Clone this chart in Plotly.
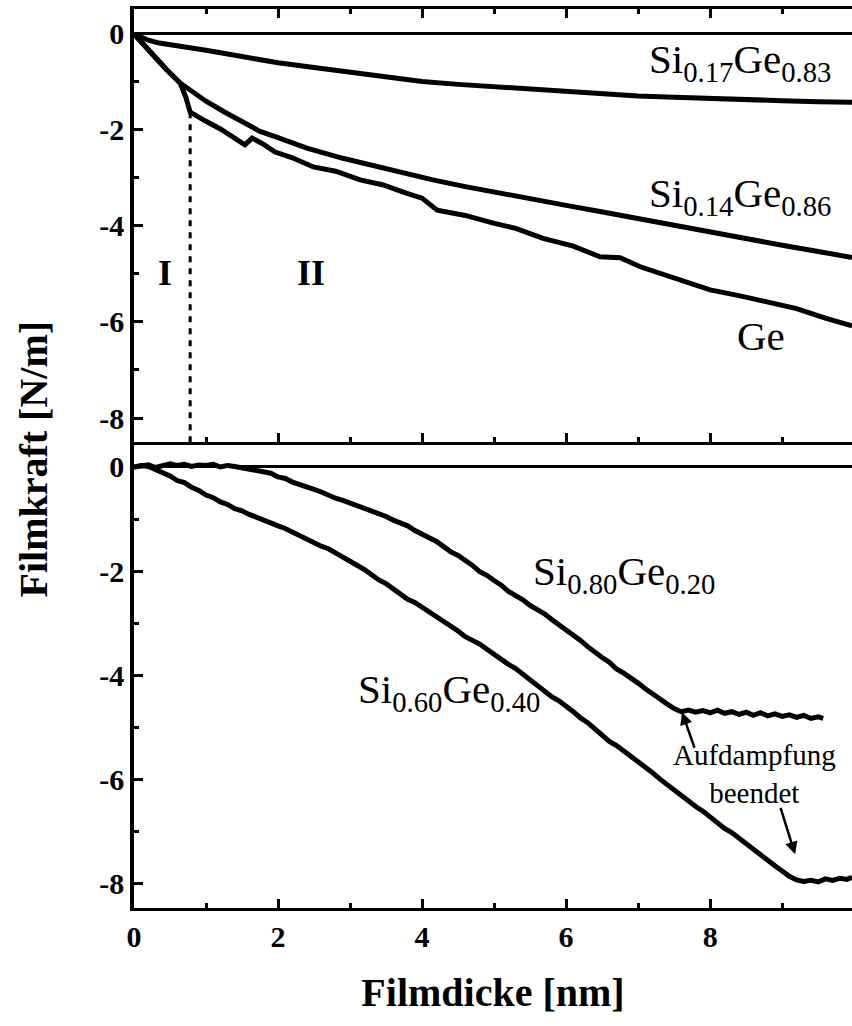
import plotly.graph_objects as go

# ---------------- data ----------------
# top panel
x_si17 = [0, 0.1, 0.2, 0.35, 0.5, 0.75, 1.0, 1.5, 2.0, 2.5, 3.0, 3.5, 4.0, 4.5, 5.0, 5.5, 6.0, 6.5, 7.0, 7.5, 8.0, 8.5, 9.0, 9.5, 9.97]
y_si17 = [0, -0.07, -0.13, -0.19, -0.23, -0.28, -0.34, -0.47, -0.6, -0.7, -0.8, -0.9, -0.99, -1.05, -1.1, -1.16, -1.21, -1.26, -1.29, -1.32, -1.35, -1.37, -1.39, -1.41, -1.42]

x_si14 = [0, 0.15, 0.3, 0.45, 0.64, 0.8, 1.0, 1.25, 1.5, 1.75, 2.0, 2.4, 2.9, 3.4, 3.8, 4.15, 4.6, 5.08, 5.5, 6.0, 6.47, 7.0, 7.5, 8.0, 8.5, 9.0, 9.5, 9.97]
y_si14 = [0, -0.25, -0.5, -0.74, -1.02, -1.2, -1.4, -1.62, -1.83, -2.03, -2.16, -2.38, -2.59, -2.78, -2.92, -3.04, -3.18, -3.32, -3.45, -3.57, -3.70, -3.85, -3.98, -4.12, -4.26, -4.4, -4.53, -4.66]

x_ge = [0, 0.15, 0.3, 0.45, 0.64, 0.72, 0.78, 0.85, 1.0, 1.2, 1.44, 1.54, 1.64, 1.8, 1.96, 2.2, 2.49, 2.8, 3.14, 3.45, 3.79, 4.0, 4.21, 4.6, 4.99, 5.3, 5.68, 6.1, 6.47, 6.75, 7.03, 7.3, 7.6, 8.0, 8.4, 8.8, 9.2, 9.6, 9.97]
y_ge = [0, -0.25, -0.5, -0.74, -1.02, -1.32, -1.63, -1.7, -1.82, -1.98, -2.2, -2.31, -2.17, -2.3, -2.46, -2.58, -2.77, -2.86, -3.04, -3.14, -3.32, -3.42, -3.67, -3.78, -3.94, -4.05, -4.26, -4.42, -4.64, -4.66, -4.85, -4.98, -5.15, -5.33, -5.45, -5.58, -5.72, -5.92, -6.08]

# bottom panel
x_si80 = [0.0, 0.1, 0.2, 0.3, 0.4, 0.5, 0.6, 0.7, 0.8, 0.9, 1.0, 1.1, 1.2, 1.3, 1.4, 1.5, 1.6, 1.7, 1.8, 1.9,
          2.0, 2.1, 2.2, 2.3, 2.4, 2.5, 2.6, 2.7, 2.8, 2.9, 3.0, 3.1, 3.2, 3.3, 3.4, 3.5, 3.6, 3.7, 3.8, 3.9,
          4.0, 4.1, 4.2, 4.3, 4.4, 4.5, 4.6, 4.7, 4.8, 4.9, 5.0, 5.1, 5.2, 5.3, 5.4, 5.5, 5.6, 5.7, 5.8, 5.9,
          6.0, 6.1, 6.2, 6.3, 6.4, 6.5, 6.6, 6.7, 6.8, 6.9, 7.0, 7.1, 7.2, 7.3, 7.4, 7.5, 7.6, 7.7, 7.8, 7.9,
          8.0, 8.1, 8.2, 8.3, 8.4, 8.5, 8.6, 8.7, 8.8, 8.9, 9.0, 9.1, 9.2, 9.3, 9.4, 9.5, 9.57]
y_si80 = [0.00, 0.03, 0.04, -0.01, 0.02, 0.06, 0.03, 0.05, 0.01, 0.04, 0.03, 0.05, 0.00, 0.03, 0.01, -0.02, -0.03, -0.07, -0.09, -0.12,
          -0.19, -0.22, -0.29, -0.33, -0.39, -0.43, -0.48, -0.55, -0.60, -0.64, -0.69, -0.76, -0.81, -0.84, -0.90, -0.95, -1.02, -1.07, -1.13, -1.22,
          -1.29, -1.35, -1.43, -1.53, -1.63, -1.70, -1.79, -1.89, -2.01, -2.08, -2.18, -2.27, -2.39, -2.46, -2.55, -2.66, -2.74, -2.82, -2.93, -3.03,
          -3.14, -3.22, -3.33, -3.45, -3.57, -3.66, -3.75, -3.88, -3.96, -4.05, -4.15, -4.26, -4.37, -4.45, -4.55, -4.64, -4.70, -4.67, -4.71, -4.68,
          -4.72, -4.67, -4.73, -4.70, -4.75, -4.71, -4.77, -4.72, -4.78, -4.74, -4.79, -4.76, -4.81, -4.77, -4.83, -4.80, -4.83]

x_si60 = [0.0, 0.1, 0.2, 0.3, 0.4, 0.5, 0.6, 0.7, 0.8, 0.9, 1.0, 1.1, 1.2, 1.3, 1.4, 1.5, 1.6, 1.7, 1.8, 1.9,
          2.0, 2.1, 2.2, 2.3, 2.4, 2.5, 2.6, 2.7, 2.8, 2.9, 3.0, 3.1, 3.2, 3.3, 3.4, 3.5, 3.6, 3.7, 3.8, 3.9,
          4.0, 4.1, 4.2, 4.3, 4.4, 4.5, 4.6, 4.7, 4.8, 4.9, 5.0, 5.1, 5.2, 5.3, 5.4, 5.5, 5.6, 5.7, 5.8, 5.9,
          6.0, 6.1, 6.2, 6.3, 6.4, 6.5, 6.6, 6.7, 6.8, 6.9, 7.0, 7.1, 7.2, 7.3, 7.4, 7.5, 7.6, 7.7, 7.8, 7.9,
          8.0, 8.1, 8.2, 8.3, 8.4, 8.5, 8.6, 8.7, 8.8, 8.9, 9.0, 9.1, 9.2, 9.3, 9.4, 9.5, 9.6, 9.7, 9.8, 9.9, 9.97]
y_si60 = [0.00, 0.03, 0.01, -0.05, -0.12, -0.17, -0.26, -0.30, -0.39, -0.45, -0.54, -0.59, -0.67, -0.72, -0.80, -0.84, -0.91, -0.97, -1.03, -1.07,
          -1.13, -1.18, -1.25, -1.31, -1.38, -1.44, -1.52, -1.57, -1.64, -1.73, -1.81, -1.88, -1.97, -2.07, -2.17, -2.24, -2.34, -2.43, -2.54, -2.60,
          -2.69, -2.79, -2.89, -2.96, -3.06, -3.15, -3.26, -3.32, -3.40, -3.50, -3.60, -3.68, -3.79, -3.87, -3.98, -4.07, -4.18, -4.29, -4.41, -4.49,
          -4.59, -4.70, -4.82, -4.91, -5.03, -5.15, -5.27, -5.35, -5.45, -5.57, -5.67, -5.76, -5.87, -5.99, -6.10, -6.19, -6.30, -6.42, -6.52, -6.61,
          -6.72, -6.84, -6.94, -7.02, -7.13, -7.25, -7.36, -7.44, -7.55, -7.66, -7.76, -7.86, -7.93, -7.96, -7.94, -7.97, -7.91, -7.94, -7.90, -7.92, -7.88]

# boundary between region I and II
x_boundary = 0.78
y_boundary_top = -1.63

y_tickvals = [0, -2, -4, -6, -8]
y_ticktext = ["0", "-2", "-4", "-6", "-8"]
x_tickvals = [0, 2, 4, 6, 8]
x_ticktext = ["0", "2", "4", "6", "8"]

FONT = "Liberation Serif"
LW = 5

fig = go.Figure()

for xs, ys in [(x_si17, y_si17), (x_si14, y_si14), (x_ge, y_ge)]:
    fig.add_trace(go.Scatter(x=xs, y=ys, mode="lines", xaxis="x2", yaxis="y2",
                             line=dict(color="black", width=LW), showlegend=False))

fig.add_trace(go.Scatter(x=[x_boundary, x_boundary], y=[y_boundary_top, -8.5], mode="lines",
                         xaxis="x2", yaxis="y2",
                         line=dict(color="black", width=3, dash="6px,6px"), showlegend=False))

for xs, ys in [(x_si80, y_si80), (x_si60, y_si60)]:
    fig.add_trace(go.Scatter(x=xs, y=ys, mode="lines", xaxis="x", yaxis="y",
                             line=dict(color="black", width=LW), showlegend=False))

split = 466 / 899

tickfont = dict(family=FONT, size=30, color="black", weight="bold")

common_x = dict(range=[0, 9.97], showline=True, linewidth=3, linecolor="black",
                ticks="inside", ticklen=9, tickwidth=2.5, tickcolor="black",
                tickvals=x_tickvals, ticktext=x_ticktext,
                minor=dict(ticks="inside", ticklen=5, tickwidth=2.5, tickcolor="black",
                           tickvals=[1, 3, 5, 7, 9]),
                showgrid=False, zeroline=False)

common_y = dict(showline=True, linewidth=3.5, linecolor="black",
                ticks="inside", ticklen=9, tickwidth=2.5, tickcolor="black",
                tickvals=y_tickvals, ticktext=y_ticktext,
                minor=dict(ticks="inside", ticklen=5, tickwidth=2.5, tickcolor="black",
                           tickvals=[-1, -3, -5, -7]),
                showgrid=False, zeroline=True, zerolinecolor="black", zerolinewidth=3,
                tickfont=tickfont)

fig.update_layout(
    width=852, height=1026,
    margin=dict(l=134, r=0, t=9, b=118),
    paper_bgcolor="white", plot_bgcolor="white",
    font=dict(family=FONT, color="black"),
    xaxis=dict(**common_x, anchor="y", domain=[0, 1],
               tickfont=tickfont,
               title=dict(text="Filmdicke [nm]", standoff=26,
                          font=dict(family=FONT, size=40, color="black", weight="bold"))),
    xaxis2=dict(**common_x, anchor="y2", matches="x", showticklabels=False, mirror="ticks"),
    yaxis=dict(**common_y, domain=[0, split], range=[-8.47, 0.48], anchor="x"),
    yaxis2=dict(**common_y, domain=[split, 1], range=[-8.5, 0.52], anchor="x2"),
)

lab_font = dict(family=FONT, size=41, color="black")
annos = [
    dict(x=8.42, y=-0.58, xref="x2", yref="y2", text="Si<sub>0.17</sub>Ge<sub>0.83</sub>"),
    dict(x=8.42, y=-3.37, xref="x2", yref="y2", text="Si<sub>0.14</sub>Ge<sub>0.86</sub>"),
    dict(x=8.7, y=-6.3, xref="x2", yref="y2", text="Ge"),
    dict(x=6.8, y=-2.06, xref="x", yref="y", text="Si<sub>0.80</sub>Ge<sub>0.20</sub>"),
    dict(x=4.37, y=-4.33, xref="x", yref="y", text="Si<sub>0.60</sub>Ge<sub>0.40</sub>"),
]
for a in annos:
    fig.add_annotation(**a, showarrow=False, font=lab_font)

fig.add_annotation(x=0.43, y=-4.97, xref="x2", yref="y2", text="I", showarrow=False,
                   font=dict(family=FONT, size=36, color="black", weight="bold"))
fig.add_annotation(x=2.46, y=-4.97, xref="x2", yref="y2", text="II", showarrow=False,
                   font=dict(family=FONT, size=36, color="black", weight="bold"))

fig.add_annotation(x=8.62, y=-5.9, xref="x", yref="y", text="Aufdampfung<br>beendet",
                   showarrow=False, font=dict(family=FONT, size=29, color="black"),
                   align="center")
fig.add_annotation(x=7.61, y=-4.71, xref="x", yref="y", text="", showarrow=True,
                   ax=13, ay=37, arrowhead=2, arrowsize=1, arrowwidth=2.5, arrowcolor="black")
fig.add_annotation(x=9.18, y=-7.44, xref="x", yref="y", text="", showarrow=True,
                   ax=-15, ay=-48, arrowhead=2, arrowsize=1, arrowwidth=2.5, arrowcolor="black")

fig.add_annotation(x=(33 - 134) / 718, y=0.5, xref="paper", yref="paper", text="Filmkraft [N/m]",
                   textangle=-90, showarrow=False, xanchor="center", yanchor="middle",
                   font=dict(family=FONT, size=40, color="black", weight="bold"))

fig.write_html("out.html")
